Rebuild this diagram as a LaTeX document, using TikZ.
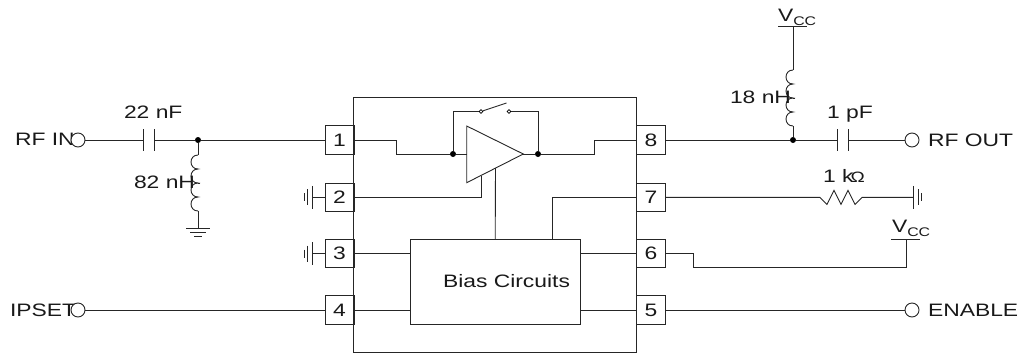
\documentclass[tikz,border=0pt]{standalone}
\usepackage{fontspec}
\setmainfont[FakeStretch=1.27]{Liberation Sans}
\newcommand{\vccText}{V\raisebox{-4pt}{\fontsize{12.5}{12.5}\selectfont CC}}
\newcommand{\coilDown}[2]{%
  \begin{scope}[shift={(#1,#2)}]
  \draw[wire] (0,0) .. controls (-9.3,0) and (-9.3,14) .. (0,14)
    .. controls (-9.3,14) and (-9.3,28) .. (0,28)
    .. controls (-9.3,28) and (-9.3,42) .. (0,42)
    .. controls (-9.3,42) and (-9.3,56) .. (0,56);
  \draw[wire] (0,28) -- (2,28);
  \end{scope}}
\newcommand{\gndRight}[1]{%
  \draw[wire] ($(#1)+(0,-11.5)$) -- ($(#1)+(0,11.5)$);
  \draw[wire] ($(#1)+(-5,-8)$) -- ($(#1)+(-5,8)$);
  \draw[wire] ($(#1)+(-8,-4)$) -- ($(#1)+(-8,4)$);}
\usetikzlibrary{calc}
\tikzset{
  x=1pt,y=-1pt,
  wire/.style={line width=0.9pt,draw=black!85},
  lbl/.style={anchor=base west,inner sep=0pt,outer sep=0pt,font=\fontsize{18}{18}\selectfont,text=black!90},
  pinbox/.style={draw=black!85,line width=0.9pt,minimum width=29pt,minimum height=28.5pt,inner sep=0pt,font=\fontsize{18}{18}\selectfont,text=black!90},
  term/.style={circle,draw=black!85,line width=0.9pt,fill=white,minimum size=14pt,inner sep=0pt},
  junction/.style={circle,fill=black,minimum size=6pt,inner sep=0pt},
  swcontact/.style={circle,draw=black,line width=0.7pt,fill=white,minimum size=3.6pt,inner sep=0pt},
}
\begin{document}
\begin{tikzpicture}
\useasboundingbox (0,0) rectangle (1020,354);
% chip
\node[draw=black!85,line width=0.9pt,minimum width=283pt,minimum height=255pt,inner sep=0pt] (chip) at (495.2,225) {};
\node[draw=black!85,line width=0.9pt,minimum width=170pt,minimum height=85pt,inner sep=0pt] (bias) at (495.2,281.7) {};
\node[lbl] (biastext) at (443,287) {Bias Circuits};
% pins
\node[pinbox] (p1) at (339.5,140) {1};
\node[pinbox] (p2) at (339.5,197.4) {2};
\node[pinbox] (p3) at (339.5,253.5) {3};
\node[pinbox] (p4) at (339.5,310) {4};
\node[pinbox] (p8) at (651,140) {8};
\node[pinbox] (p7) at (651,197.4) {7};
\node[pinbox] (p6) at (651,253.5) {6};
\node[pinbox] (p5) at (651,310) {5};
% amplifier
\coordinate (ampA) at (466.7,126);
\coordinate (ampB) at (466.7,182.7);
\coordinate (ampT) at (523.3,154);
\draw[wire] (ampA) -- (ampB) -- (ampT) -- cycle;
\node[junction] (jin) at (453,154) {};
\node[junction] (jout) at (538,154) {};
\node[swcontact] (swa) at (481,111.5) {};
\node[swcontact] (swb) at (509,111.5) {};
\coordinate (swarm) at (506.5,103);
\coordinate (w1) at (396,140);
\coordinate (w2) at (396,154);
\coordinate (w3) at (594,154);
\coordinate (w4) at (594,140);
\coordinate (ampIn) at (466.7,154);
\draw[wire] (p1.east) -- (w1) -- (w2) -- (jin) -- (ampIn);
\draw[wire] (jin) |- (swa);
\draw[wire] (swa) -- (swarm);
\draw[wire] (swb) -| (jout);
\draw[wire] (ampT) -- (jout) -- (w3) -- (w4) -- (p8.west);
\coordinate (a2) at (481,175.5);
\draw[wire] (p2.east) -| (a2);
\coordinate (a3) at (495.5,168);
\draw[wire] (bias.north) -- (a3);
\coordinate (b7) at (552,239.2);
\draw[wire] (p7.west) -| (b7);
\draw[wire] (p3.east) -- (p3.east -| bias.west);
\draw[wire] (p4.east) -- (p4.east -| bias.west);
\draw[wire] (p6.west) -- (p6.west -| bias.east);
\draw[wire] (p5.west) -- (p5.west -| bias.east);
% grounds on pins 2 and 3
\coordinate (g2) at (312,197.4);
\coordinate (g3) at (312,253.5);
\draw[wire] (p2.west) -- (g2);
\draw[wire] (p3.west) -- (g3);
\gndRight{g2}
\gndRight{g3}
% RF IN
\node[lbl] (rfinl) at (15,145) {RF IN};
\node[term] (rfin) at (78,140) {};
\coordinate (c1a) at (143,140);
\coordinate (c1b) at (154,140);
\node[junction] (j1) at (198,140) {};
\draw[wire] (rfin) -- (c1a);
\draw[wire] (c1b) -- (j1) -- (p1.west);
\draw[wire] ($(c1a)+(0,-11)$) -- ($(c1a)+(0,11)$);
\draw[wire] ($(c1b)+(0,-11)$) -- ($(c1b)+(0,11)$);
\node[lbl] (c1l) at (124,118) {22 nF};
\coordinate (l1t) at (198,155);
\coordinate (l1b) at (198,211);
\draw[wire] (j1) -- (l1t);
\coilDown{198}{155}
\coordinate (g1) at (198,228);
\draw[wire] (l1b) -- (g1);
\draw[wire] ($(g1)+(-12,0)$) -- ($(g1)+(12,0)$);
\draw[wire] ($(g1)+(-8,4)$) -- ($(g1)+(8,4)$);
\draw[wire] ($(g1)+(-4,8)$) -- ($(g1)+(4,8)$);
\node[lbl] (l1l) at (134,188) {82 nH};
% IPSET
\node[lbl] (ipsetl) at (10,316) {IPSET};
\node[term] (ipset) at (78,310) {};
\draw[wire] (ipset) -- (p4.west);
% RF OUT
\node[junction] (j2) at (793,140) {};
\coordinate (c2a) at (837,140);
\coordinate (c2b) at (848,140);
\node[term] (rfout) at (912,140) {};
\draw[wire] (p8.east) -- (j2) -- (c2a);
\draw[wire] (c2b) -- (rfout);
\draw[wire] ($(c2a)+(0,-11)$) -- ($(c2a)+(0,11)$);
\draw[wire] ($(c2b)+(0,-11)$) -- ($(c2b)+(0,11)$);
\node[lbl] (c2l) at (827,118) {1 pF};
\node[lbl] (rfoutl) at (928,146) {RF OUT};
\coordinate (v1) at (793,26);
\coordinate (l2t) at (793,70);
\coordinate (l2b) at (793,126);
\draw[wire] (v1) -- (l2t);
\coilDown{793}{70}
\draw[wire] (l2b) -- (j2);
\draw[wire] ($(v1)+(-15,0)$) -- ($(v1)+(14,0)$);
\node[lbl] (v1l) at (778,21) {\vccText};
\node[lbl] (l2l) at (730,103) {18 nH};
% resistor
\coordinate (r0) at (820,197.4);
\coordinate (g7) at (913,197.4);
\draw[wire] (p7.east) -- (r0) -- ++(7,7) -- ++(7,-14) -- ++(7,14) -- ++(7,-14) -- ++(7,14) -- ++(7,-7) -- (g7);
\draw[wire] ($(g7)+(0,-11.5)$) -- ($(g7)+(0,11.5)$);
\draw[wire] ($(g7)+(5,-8)$) -- ($(g7)+(5,8)$);
\draw[wire] ($(g7)+(8,-4)$) -- ($(g7)+(8,4)$);
\node[lbl] (rl) at (823,182) {1 k\kern-3pt{\fontsize{15}{15}\selectfont Ω}};
% lower Vcc
\coordinate (v2) at (906,239);
\coordinate (w6a) at (693,253.5);
\coordinate (w6b) at (693,267);
\coordinate (w6c) at (906,267);
\draw[wire] (p6.east) -- (w6a) -- (w6b) -- (w6c) -- (v2);
\draw[wire] ($(v2)+(-15,0)$) -- ($(v2)+(14,0)$);
\node[lbl] (v2l) at (892,232) {\vccText};
% ENABLE
\node[term] (enable) at (912,310) {};
\draw[wire] (p5.east) -- (enable);
\node[lbl] (enablel) at (928,316) {ENABLE};
\end{tikzpicture}
\end{document}
